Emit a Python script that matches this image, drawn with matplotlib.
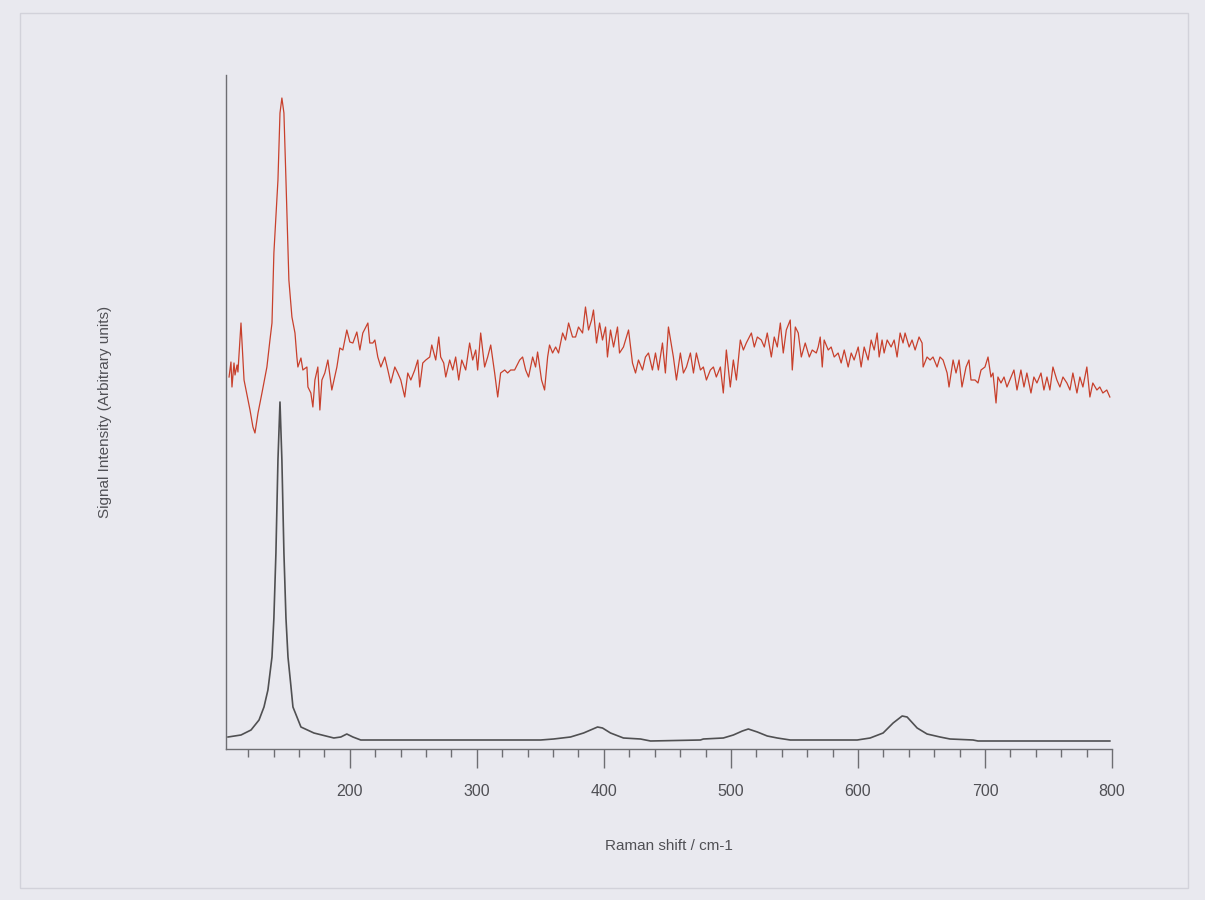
"""Raman spectrum: noisy sample trace (red) over a reference anatase trace (dark)."""
import matplotlib
matplotlib.use("Agg")
import matplotlib.pyplot as plt
from matplotlib.patches import Rectangle
from matplotlib.ticker import MultipleLocator, FixedLocator

plt.rcParams["font.family"] = ["Liberation Sans", "DejaVu Sans"]

# red (sample) trace: shift in cm-1, intensity in a.u.
red_shift = [
    104.9, 106.4, 107.2, 108.8, 109.6, 111.2, 111.9, 114.3, 116.7, 121.4,
    123.7, 125.3, 127.7, 130.8, 134.7, 137.1, 138.7, 140.2, 143.4, 145.0,
    146.5, 148.1, 149.7, 152.0, 154.4, 156.8, 158.3, 159.1, 161.5, 163.0,
    166.2, 167.0, 169.3, 170.9, 172.5, 174.8, 176.4, 178.0, 180.3, 182.7,
    185.8, 189.8, 192.1, 194.5, 197.6, 200.0, 202.4, 205.5, 207.9, 210.2,
    214.2, 215.7, 218.1, 219.7, 222.0, 224.4, 227.5, 229.9, 232.2, 235.4,
    237.7, 240.1, 243.2, 245.6, 248.0, 251.1, 253.5, 255.0, 257.4, 259.8,
    262.9, 264.5, 267.6, 270.0, 271.5, 273.9, 275.5, 278.6, 281.0, 283.3,
    285.7, 288.1, 291.2, 294.3, 296.7, 299.1, 300.6, 303.0, 306.1, 308.5,
    310.9, 314.0, 316.4, 318.7, 321.9, 324.2, 326.6, 329.7, 333.7, 336.0,
    338.4, 340.7, 343.9, 346.2, 347.8, 350.9, 353.3, 355.7, 357.2, 359.6,
    362.0, 364.3, 367.5, 369.8, 372.2, 375.3, 377.7, 380.0, 383.2, 385.5,
    387.9, 390.3, 391.8, 394.2, 396.6, 398.9, 401.3, 402.8, 405.2, 407.6,
    410.7, 412.3, 415.4, 417.8, 419.4, 422.5, 424.9, 427.2, 430.4, 432.7,
    435.1, 438.2, 440.6, 442.9, 446.1, 448.4, 450.8, 454.7, 457.1, 460.2,
    462.6, 465.0, 468.1, 470.5, 472.8, 476.0, 478.3, 480.7, 483.8, 486.2,
    488.5, 491.7, 494.0, 496.4, 499.5, 501.9, 504.3, 507.4, 509.8, 512.1,
    516.1, 518.4, 520.8, 523.9, 526.3, 528.6, 531.8, 534.1, 536.5, 538.9,
    541.2, 543.6, 546.7, 548.3, 550.7, 553.0, 555.4, 558.5, 561.7, 564.0,
    567.2, 568.7, 570.3, 571.9, 573.4, 576.6, 578.9, 581.3, 584.4, 586.8,
    589.2, 592.3, 594.7, 597.0, 600.2, 602.5, 604.9, 608.0, 610.4, 612.8,
    615.1, 616.7, 619.0, 620.6, 623.0, 626.1, 628.5, 630.8, 633.2, 635.5,
    637.1, 640.3, 642.6, 645.0, 648.1, 650.5, 651.3, 654.4, 656.8, 659.1,
    662.3, 664.6, 667.0, 670.2, 671.7, 674.9, 677.2, 679.6, 681.9, 683.5,
    685.1, 687.4, 689.0, 692.2, 694.5, 696.9, 700.0, 702.4, 704.7, 706.3,
    708.7, 710.2, 712.6, 715.0, 717.3, 720.5, 722.8, 725.2, 728.3, 730.7,
    733.0, 736.2, 738.5, 740.9, 744.1, 746.4, 748.8, 751.1, 753.5, 756.6,
    759.0, 761.4, 764.5, 766.9, 769.2, 772.4, 774.7, 777.1, 780.2, 782.6,
    784.9, 788.1, 790.4, 792.8, 795.9, 798.3,
]
red_int = [
    372, 387, 362, 386, 374, 384, 377, 426, 369, 339,
    322, 316, 336, 356, 382, 409, 426, 496, 569, 636,
    651, 636, 569, 469, 432, 416, 392, 382, 391, 379,
    382, 362, 356, 342, 369, 382, 339, 369, 376, 389,
    359, 382, 401, 399, 419, 407, 406, 417, 399, 416,
    426, 406, 406, 409, 392, 382, 392, 379, 366, 382,
    376, 369, 352, 376, 369, 379, 389, 362, 386, 389,
    392, 404, 389, 412, 392, 386, 372, 389, 379, 392,
    369, 389, 379, 406, 389, 399, 379, 416, 382, 392,
    404, 376, 352, 376, 379, 376, 379, 379, 389, 392,
    379, 372, 392, 382, 397, 369, 359, 392, 404, 396,
    402, 396, 416, 409, 426, 412, 412, 422, 416, 442,
    419, 429, 439, 406, 426, 409, 422, 392, 419, 402,
    422, 396, 402, 412, 419, 386, 376, 389, 379, 392,
    396, 379, 396, 379, 406, 376, 422, 392, 369, 396,
    376, 382, 396, 376, 396, 379, 382, 369, 379, 382,
    372, 382, 356, 399, 362, 389, 369, 409, 399, 406,
    416, 402, 412, 409, 402, 416, 392, 412, 402, 426,
    396, 419, 429, 379, 422, 416, 392, 406, 392, 399,
    396, 402, 412, 382, 409, 399, 402, 392, 396, 386,
    399, 382, 396, 389, 402, 382, 402, 389, 409, 399,
    416, 392, 409, 396, 409, 402, 409, 392, 416, 406,
    416, 402, 409, 399, 412, 406, 382, 392, 389, 392,
    382, 392, 389, 376, 362, 389, 376, 389, 362, 372,
    382, 389, 369, 369, 366, 379, 382, 392, 372, 376,
    346, 372, 366, 372, 362, 372, 379, 359, 379, 362,
    376, 356, 372, 366, 376, 359, 372, 359, 382, 369,
    362, 372, 366, 359, 376, 356, 372, 362, 382, 352,
    366, 359, 362, 356, 359, 352,
]

# dark (reference) trace: smooth, peaks near 144, 197, 395, 515, 638 cm-1
ref_shift = [
    104.1, 114.3, 122.2, 128.5, 132.4, 135.5, 138.7, 140.2, 141.8, 143.4,
    145.0, 146.5, 148.1, 149.7, 151.3, 153.6, 155.2, 161.5, 171.7, 187.4,
    192.9, 197.6, 202.4, 208.6, 350.2, 360.4, 373.7, 384.0, 395.0, 398.9,
    405.2, 415.4, 428.8, 436.7, 476.0, 478.3, 494.0, 501.9, 509.0, 513.7,
    520.8, 528.6, 536.5, 546.7, 599.4, 609.6, 619.8, 627.7, 634.8, 638.7,
    646.6, 654.4, 664.6, 672.5, 690.6, 694.5, 798.3,
]
ref_int = [
    12, 14, 19, 29, 42, 59, 92, 131, 196, 289,
    347, 289, 196, 131, 92, 63, 42, 22, 16, 11,
    12, 15, 12, 9, 9, 10, 12, 16, 22, 21,
    16, 11, 10, 8, 9, 10, 11, 14, 18, 20,
    17, 13, 11, 9, 9, 11, 16, 26, 33, 32,
    21, 15, 12, 10, 9, 8, 8,
]

major_ticks = [200, 300, 400, 500, 600, 700, 800]

BG = "#e9e9ef"
AXIS_GREY = "#6e6e72"
TEXT_GREY = "#505055"

fig = plt.figure(figsize=(12.05, 9.0), dpi=100, facecolor=BG)
fig.patches.append(Rectangle((20 / 1205, 1 - 888 / 900), 1168 / 1205, 875 / 900,
                             transform=fig.transFigure, fill=False,
                             edgecolor="#d2d2da", linewidth=1.0))

ax = fig.add_axes([226 / 1205, 1 - 749 / 900, 886 / 1205, 674 / 900])
ax.set_facecolor(BG)

ax.plot(ref_shift, ref_int, color="#505052", linewidth=1.2)
ax.plot(red_shift, red_int, color="#c8402c", linewidth=0.9)

ax.set_xlim(102.5, 800)
ax.set_ylim(0, 674)

for side in ("top", "right"):
    ax.spines[side].set_visible(False)
for side in ("left", "bottom"):
    ax.spines[side].set_color(AXIS_GREY)
    ax.spines[side].set_linewidth(1.0)

ax.xaxis.set_major_locator(FixedLocator(major_ticks))
ax.xaxis.set_minor_locator(MultipleLocator(20))
ax.tick_params(axis="x", which="major", direction="out", length=14, width=1.0,
               color=AXIS_GREY, labelsize=11.5, labelcolor=TEXT_GREY, pad=11)
ax.tick_params(axis="x", which="minor", direction="out", length=6, width=1.0,
               color=AXIS_GREY)
ax.set_yticks([])

ax.set_xlabel("Raman shift / cm-1", fontsize=11, color=TEXT_GREY, labelpad=29)
ax.set_ylabel("Signal Intensity (Arbitrary units)", fontsize=11, color=TEXT_GREY,
              labelpad=82)

fig.savefig("out.png", dpi=100, facecolor=BG)
